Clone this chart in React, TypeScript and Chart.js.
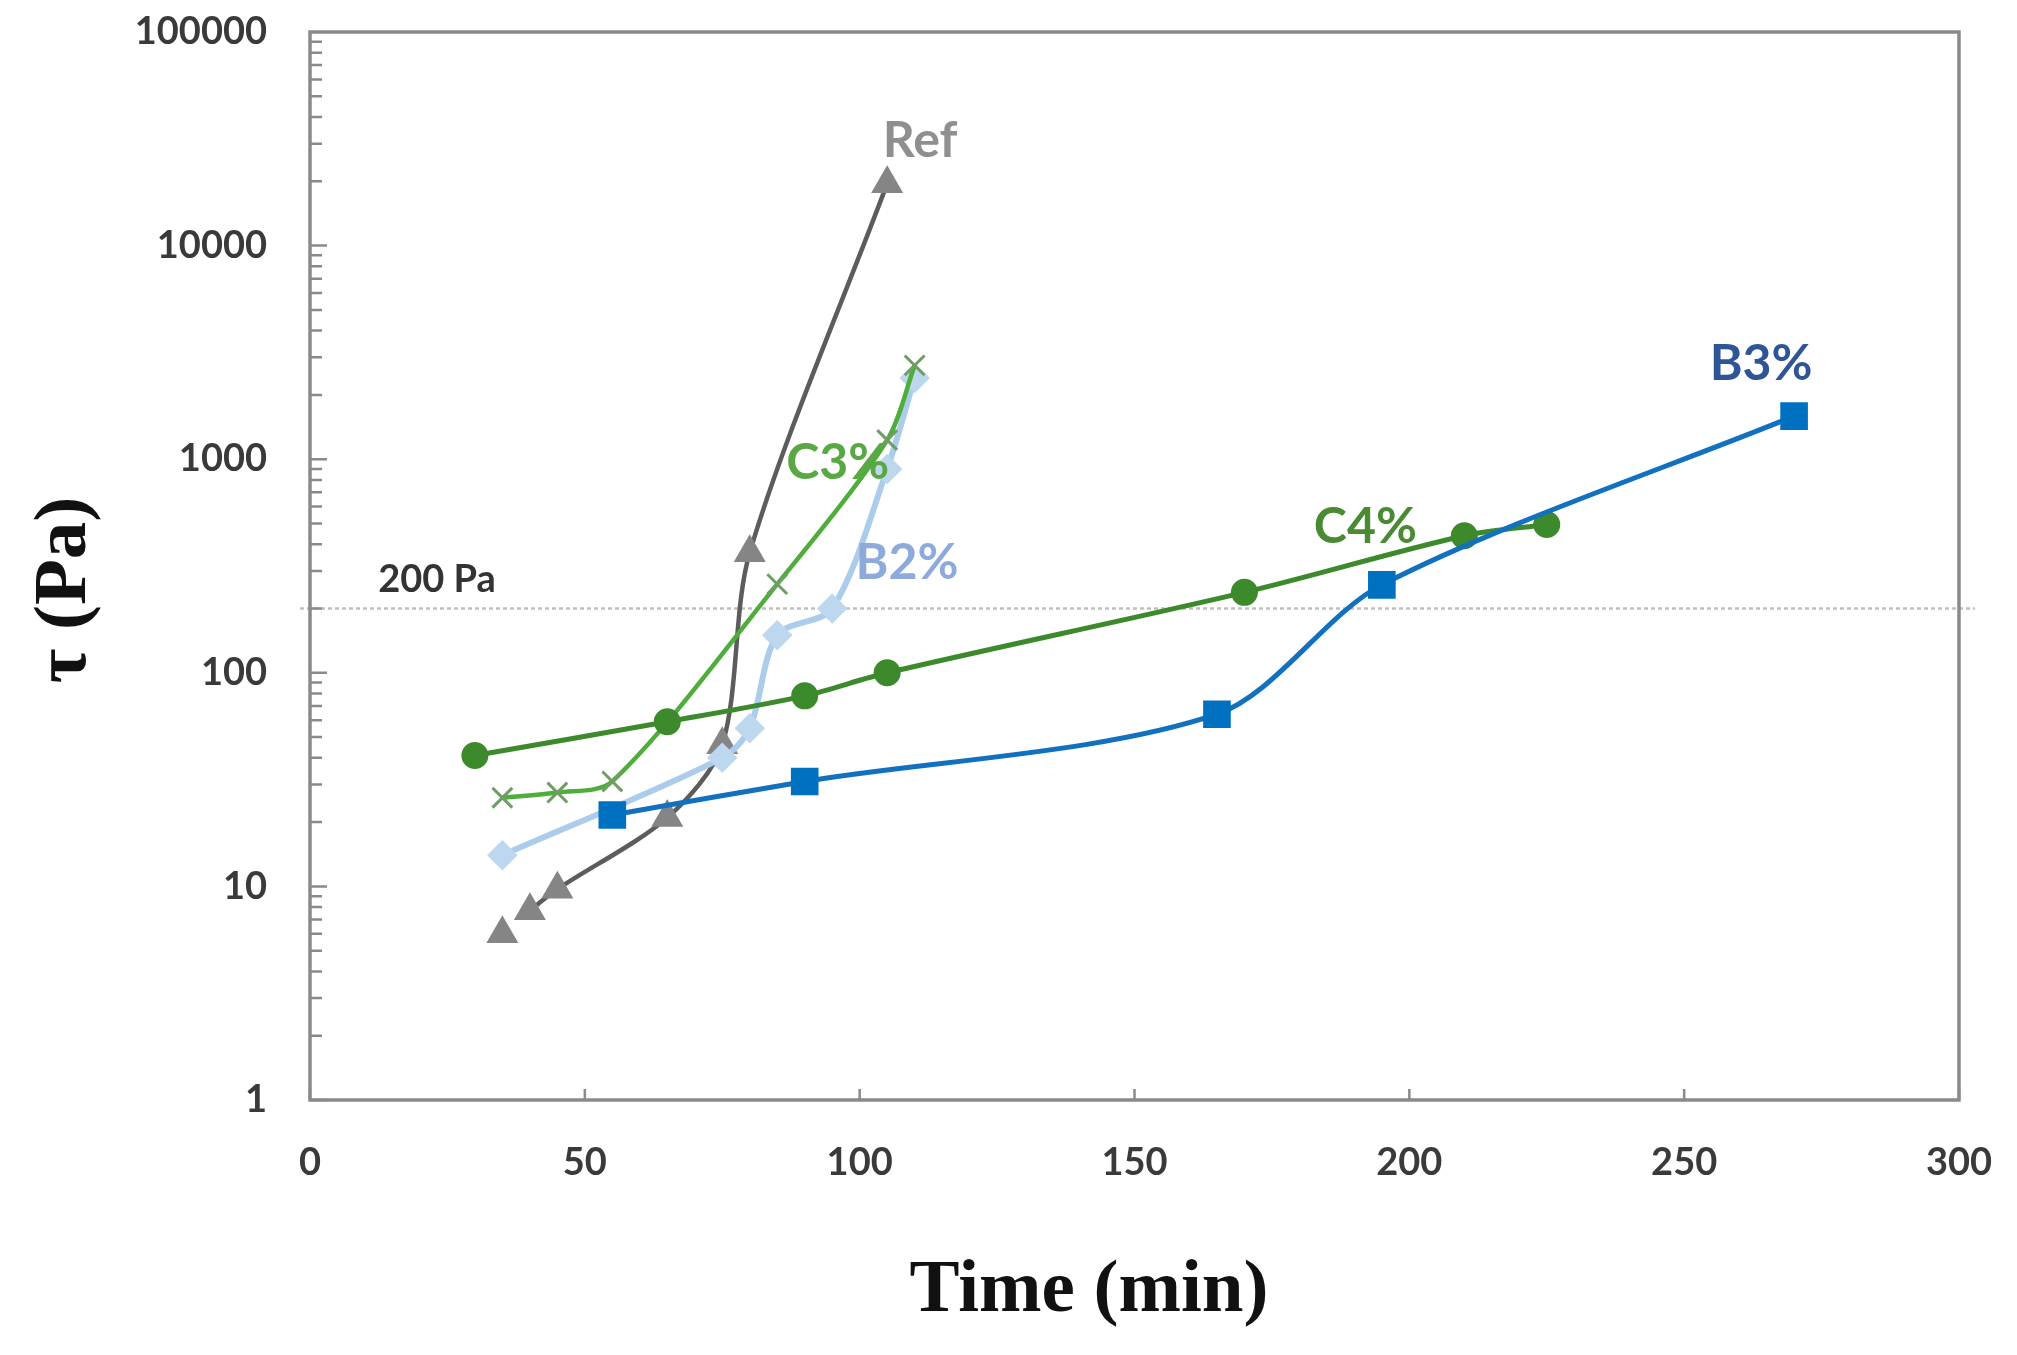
import React, { useEffect, useRef } from "react";
import { Chart, registerables } from "chart.js";

Chart.register(...registerables);

// values (time in min, shear stress in Pa)
const refTime = [35, 40, 45, 65, 75, 80, 105];
const refTau = [6, 7.7, 9.7, 21, 46, 365, 19500];

const c3Time = [35, 45, 55, 85, 105, 110];
const c3Tau = [26, 27.5, 31, 260, 1230, 2750];

const b2Time = [35, 75, 80, 85, 95, 105, 110];
const b2Tau = [14, 40, 55, 150, 200, 900, 2400];

const c4Time = [30, 65, 90, 105, 170, 210, 225];
const c4Tau = [41, 59, 78, 100, 238, 438, 495];

const b3Time = [55, 90, 165, 195, 270];
const b3Tau = [21.6, 31, 64, 258, 1590];

const yMajor = [1, 10, 100, 1000, 10000, 100000];
const xMajor = [0, 50, 100, 150, 200, 250, 300];
const limitTau = 200;

const tickFont = { family: "Lato", size: 38, weight: "bold" as const };
const labelFont = "bold 50px Lato";
const titleFont = "bold 75px 'Liberation Serif'";

const pts = (t: number[], v: number[]) => t.map((x, i) => ({ x, y: v[i] }));

// series name labels, anchored in data units
const seriesLabels = [
  { text: "Ref", x: 111, y: 31000, color: "#8f8f8f" },
  { text: "C3%", x: 96, y: 960, color: "#5aa844" },
  { text: "B2%", x: 108.6, y: 327, color: "#8eaadb" },
  { text: "C4%", x: 192, y: 482, color: "#4a8a32" },
  { text: "B3%", x: 264, y: 2790, color: "#2f5597" },
];

const overlay = {
  id: "overlay",
  beforeDatasetsDraw(chart: any) {
    const { ctx, chartArea: a, scales } = chart;
    const xs = scales.x;
    const ys = scales.y;
    ctx.save();
    // 200 Pa threshold
    const yl = ys.getPixelForValue(limitTau);
    ctx.strokeStyle = "#c0c0c0";
    ctx.lineWidth = 2.5;
    ctx.setLineDash([4, 3]);
    ctx.beginPath();
    ctx.moveTo(a.left - 10, yl);
    ctx.lineTo(a.right + 16, yl);
    ctx.stroke();
    ctx.setLineDash([]);

    // inward tick marks
    ctx.strokeStyle = "#8a8a8a";
    ctx.lineWidth = 2.5;
    ctx.beginPath();
    for (let d = 0; d < 5; d++) {
      for (let m = 1; m <= 9; m++) {
        const y = ys.getPixelForValue(m * Math.pow(10, d));
        ctx.moveTo(a.left, y);
        ctx.lineTo(a.left + (m === 1 ? 17 : 12), y);
      }
    }
    xMajor.forEach((v) => {
      const x = xs.getPixelForValue(v);
      ctx.moveTo(x, a.bottom);
      ctx.lineTo(x, a.bottom - 11);
    });
    ctx.stroke();

    // frame
    ctx.lineWidth = 3.5;
    ctx.strokeRect(a.left, a.top, a.right - a.left, a.bottom - a.top);

    ctx.font = "bold 38px Lato";
    ctx.fillStyle = "#333333";
    ctx.textAlign = "center";
    ctx.textBaseline = "middle";
    ctx.fillText("200 Pa", xs.getPixelForValue(23.1), ys.getPixelForValue(272));
    ctx.restore();
  },
  afterDraw(chart: any) {
    const { ctx, scales } = chart;
    ctx.save();
    ctx.textAlign = "center";
    ctx.textBaseline = "middle";
    ctx.font = labelFont;
    seriesLabels.forEach((l) => {
      ctx.fillStyle = l.color;
      ctx.fillText(l.text, scales.x.getPixelForValue(l.x), scales.y.getPixelForValue(l.y));
    });
    ctx.fillStyle = "#111111";
    ctx.font = titleFont;
    ctx.fillText("Time (min)", 1089, 1292);
    ctx.translate(66, 590);
    ctx.rotate(-Math.PI / 2);
    ctx.fillText("τ (Pa)", 0, 0);
    ctx.restore();
  },
};

const App = () => {
  const canvasRef = useRef<HTMLCanvasElement>(null);

  useEffect(() => {
    if (!canvasRef.current) return;
    const chart = new Chart(canvasRef.current, {
      type: "line",
      data: {
        // first dataset is drawn on top
        datasets: [
          {
            label: "B3%",
            data: pts(b3Time, b3Tau),
            borderColor: "#1271bf",
            borderWidth: 5,
            pointStyle: "rect",
            pointRadius: 16,
            pointBackgroundColor: "#0070c0",
            pointBorderColor: "#0070c0",
          },
          {
            label: "C4%",
            data: pts(c4Time, c4Tau),
            borderColor: "#3c8a2c",
            borderWidth: 5,
            pointStyle: "circle",
            pointRadius: 11,
            pointBackgroundColor: "#3c8a2c",
            pointBorderColor: "#3c8a2c",
          },
          {
            label: "C3%",
            data: pts(c3Time, c3Tau),
            borderColor: "#4fad3c",
            borderWidth: 4.5,
            pointStyle: "crossRot",
            pointRadius: 14,
            pointBorderWidth: 3,
            pointBorderColor: "#6f9e64",
          },
          {
            label: "B2%",
            data: pts(b2Time, b2Tau),
            borderColor: "#abcdeb",
            borderWidth: 6,
            pointStyle: "rectRot",
            pointRadius: 11,
            pointBackgroundColor: "#bdd7ee",
            pointBorderColor: "#bdd7ee",
          },
          {
            label: "Ref",
            data: pts(refTime, refTau),
            borderColor: "#5c5c5c",
            borderWidth: 4.5,
            pointStyle: "triangle",
            pointRadius: 14,
            pointBackgroundColor: "#858585",
            pointBorderColor: "#858585",
            segment: {
              borderColor: (c: any) => (c.p0DataIndex === 0 ? "rgba(0,0,0,0)" : "#5c5c5c"),
            },
          },
        ],
      },
      options: {
        animation: false,
        responsive: true,
        maintainAspectRatio: false,
        devicePixelRatio: 1,
        layout: { padding: { top: 32, right: 58, left: 0, bottom: 0 } },
        elements: { line: { tension: 0.3 } },
        plugins: {
          legend: { display: false },
          tooltip: { enabled: false },
        },
        scales: {
          x: {
            type: "linear",
            min: 0,
            max: 300,
            ticks: { stepSize: 50, font: tickFont, color: "#3a3a3a", padding: 40 },
            grid: { display: false, drawTicks: false },
            border: { display: false },
            afterFit: (s: any) => {
              s.height = 255;
              s.paddingLeft = 0;
              s.paddingRight = 0;
            },
          },
          y: {
            type: "logarithmic",
            min: 1,
            max: 100000,
            ticks: {
              autoSkip: false,
              font: tickFont,
              color: "#3a3a3a",
              padding: 43,
              callback: (v: any) => (yMajor.includes(Number(v)) ? String(v) : ""),
            },
            grid: { display: false, drawTicks: false },
            border: { display: false },
            afterFit: (s: any) => {
              s.width = 310;
              s.paddingTop = 0;
              s.paddingBottom = 0;
            },
          },
        },
      },
      plugins: [overlay],
    });
    return () => chart.destroy();
  }, []);

  return (
    <div style={{ position: "fixed", left: 0, top: 0, width: 2017, height: 1355, background: "#fff" }}>
      <canvas ref={canvasRef} />
    </div>
  );
};

export default App;
